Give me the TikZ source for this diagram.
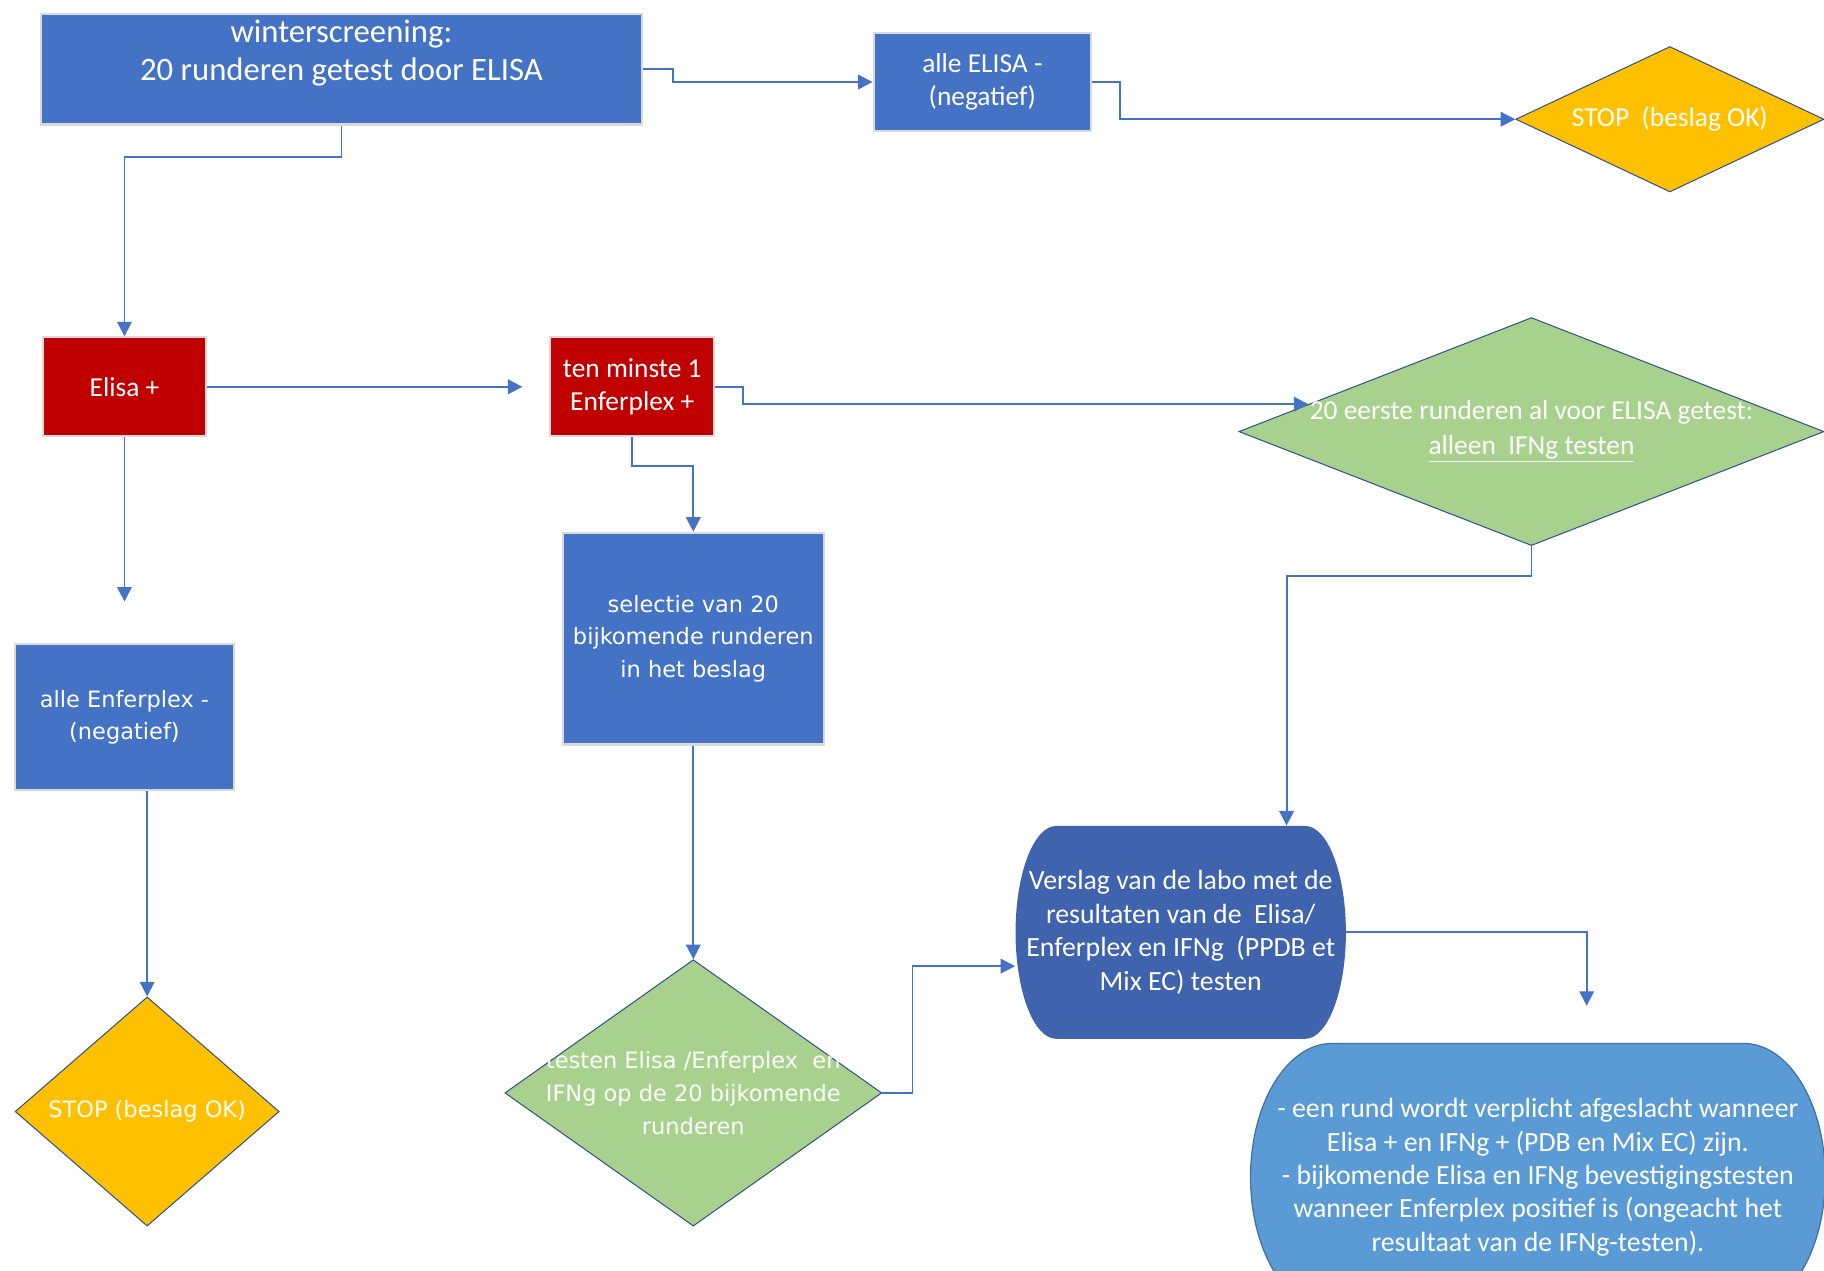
\documentclass[tikz,border=0pt]{standalone}
\usepackage{fontspec}
\setmainfont{Carlito}
\newfontfamily\widefont{DejaVu Sans}
\usetikzlibrary{shapes.geometric,arrows.meta}

\definecolor{boxblue}{HTML}{4472C4}
\definecolor{boxred}{HTML}{C00000}
\definecolor{stopyellow}{HTML}{FFC000}
\definecolor{testgreen}{HTML}{A9D18E}
\definecolor{reportblue}{HTML}{3F63AD}
\definecolor{noteblue}{HTML}{5B9BD5}
\definecolor{noteline}{HTML}{41719C}
\definecolor{diamondline}{HTML}{2F528F}

\begin{document}
\begin{tikzpicture}[
  box/.style={rectangle, draw=black!15, line width=1pt, text=white, align=center,
    inner sep=0pt, font=\fontsize{13.4}{16}\selectfont},
  widebox/.style={box, font=\widefont\fontsize{11}{15.9}\selectfont},
  decision/.style={diamond, draw=diamondline, line width=0.5pt, inner sep=0pt},
  lbl/.style={text=white, align=center, font=\fontsize{13.4}{17}\selectfont},
  widelbl/.style={text=white, align=center, font=\widefont\fontsize{11}{16.2}\selectfont},
  conn/.style={draw=boxblue, line width=0.9pt, -{Triangle[length=0.25cm,width=0.25cm]}}
]
  \clip (0,0) rectangle (31.36,-21.84);

  % top row
  \node[box, fill=boxblue, minimum width=10.34cm, minimum height=1.9cm,
    font=\fontsize{16}{18.8}\selectfont] (winter) at (5.87,-1.19)
    {winterscreening:\\20 runderen getest door ELISA\\\mbox{}};
  \node[box, fill=boxblue, minimum width=3.74cm, minimum height=1.7cm] (alleE)
    at (16.89,-1.41) {alle ELISA -\\(negatief)};
  \node[decision, fill=stopyellow, minimum width=5.3cm, minimum height=2.5cm,
    label={[lbl]center:{STOP\ \ (beslag OK)}}] (stop1) at (28.71,-2.05) {};

  % second row
  \node[box, fill=boxred, minimum width=2.8cm, minimum height=1.7cm] (elisa)
    at (2.14,-6.65) {Elisa +};
  \node[box, fill=boxred, minimum width=2.82cm, minimum height=1.7cm] (tenm)
    at (10.87,-6.65) {ten minste 1\\Enferplex +};
  \node[decision, fill=testgreen, minimum width=10.06cm, minimum height=3.92cm,
    label={[lbl]center:{20 eerste runderen al voor ELISA getest:\\\underline{alleen\ \ IFNg testen}}}]
    (green1) at (26.33,-7.42) {};

  % left and middle column
  \node[widebox, fill=boxblue, minimum width=3.76cm, minimum height=2.5cm] (allEnf)
    at (2.14,-12.33) {alle Enferplex -\\(negatief)};
  \node[decision, fill=stopyellow, minimum width=4.54cm, minimum height=3.94cm,
    label={[widelbl]center:{STOP (beslag OK)}}] (stop2) at (2.53,-19.11) {};
  \node[widebox, fill=boxblue, minimum width=4.48cm, minimum height=3.64cm] (sel)
    at (11.92,-10.98) {selectie van 20\\bijkomende runderen\\in het beslag};
  \node[decision, fill=testgreen, minimum width=6.48cm, minimum height=4.58cm,
    label={[widelbl]center:{testen Elisa /Enferplex\ \ en\\IFNg op de 20 bijkomende\\runderen}}]
    (gtest) at (11.92,-18.79) {};

  % report and conclusion
  \fill[reportblue] (18.16,-14.2) -- (22.44,-14.2)
    arc[start angle=90, end angle=-90, x radius=0.7, y radius=1.83] -- (18.16,-17.86)
    arc[start angle=270, end angle=90, x radius=0.7, y radius=1.83] -- cycle;
  \node[text=white, align=center, inner sep=0pt, minimum width=5.68cm, minimum height=3.66cm,
    font=\fontsize{13.6}{16.4}\selectfont] (verslag) at (20.3,-16.03)
    {Verslag van de labo met de\\resultaten van de\ \ Elisa/\\Enferplex en IFNg\ \ (PPDB et\\Mix EC) testen};
  \filldraw[fill=noteblue, draw=noteline, line width=0.6pt] (22.9,-17.94) -- (29.98,-17.94)
    arc[start angle=90, end angle=-90, x radius=1.4, y radius=2.3] -- (22.9,-22.54)
    arc[start angle=270, end angle=90, x radius=1.4, y radius=2.3] -- cycle;
  \node[text=white, align=center, inner sep=0pt, minimum width=9.88cm, minimum height=4.6cm,
    font=\fontsize{13.6}{16.3}\selectfont] (final) at (26.44,-20.24)
    {- een rund wordt verplicht afgeslacht wanneer\\Elisa + en IFNg + (PDB en Mix EC) zijn.\\- bijkomende Elisa en IFNg bevestigingstesten\\wanneer Enferplex positief is (ongeacht het\\resultaat van de IFNg-testen).};

  % connectors
  \draw[conn] (winter.east) -- ++(0.52,0) |- (alleE.west);
  \draw[conn] (alleE.east) -- ++(0.48,0) |- (stop1.west);
  \draw[conn] (winter.south) -- ++(0,-0.54) -| (elisa.north);
  \draw[conn] (elisa.east) -- ([xshift=-0.46cm]tenm.west);
  \draw[conn] (elisa.south) -- ([yshift=0.72cm]allEnf.north);
  \draw[conn] (allEnf.south -| stop2.north) -- (stop2.north);
  \draw[conn] (tenm.east) -- ++(0.48,0) |- (green1.173);
  \draw[conn] (tenm.south) -- ++(0,-0.5) -| (sel.north);
  \draw[conn] (sel.south) -- (gtest.north);
  \draw[conn] (gtest.east) -- ++(0.52,0) |- ([yshift=-0.58cm]verslag.west);
  \draw[conn] (green1.south) -- ++(0,-0.52) -| ([xshift=1.82cm]verslag.north);
  \draw[conn] (verslag.east) -| ([xshift=0.84cm,yshift=0.64cm]final.north);
\end{tikzpicture}
\end{document}
